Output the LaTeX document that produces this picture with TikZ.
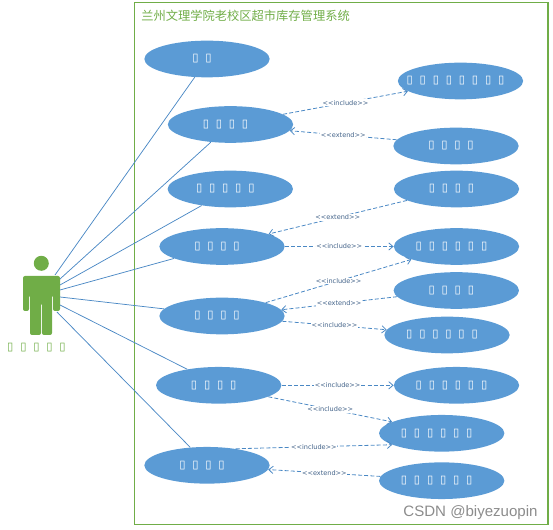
\documentclass[tikz,border=0pt]{standalone}
\usepackage{fontspec}
\setmainfont{DejaVu Sans}
\newfontfamily\cjkfont{Noto Sans CJK SC}
\newfontfamily\wmfont{Liberation Sans}
\usetikzlibrary{shapes.geometric,arrows.meta}
\definecolor{ublue}{HTML}{5B9BD5}
\definecolor{linkblue}{HTML}{4A88C4}
\definecolor{ugreen}{HTML}{70AD47}
\definecolor{labelblue}{HTML}{44648A}
\newcommand{\tf}[1]{\makebox[0pt]{\hskip-7.5pt\foreach \i in {1,...,#1}{\hbox to 9.8pt{\hss\fontsize{8.5}{10}\selectfont ▯\hss}}}}
\newcommand{\inc}{{<}{<}include{>}{>}}
\newcommand{\ext}{{<}{<}extend{>}{>}}
\tikzset{
  usecase/.style={ellipse,fill=ublue,text=white,minimum width=94pt,minimum height=27.5pt,inner sep=0pt},
  assoc/.style={draw=linkblue,line width=0.55pt},
  dep/.style={draw=linkblue,line width=0.6pt,dash pattern=on 3pt off 1.6pt,-{Straight Barb[length=3.2pt,width=5.5pt]}},
  tag/.style={pos=.5,fill=white,inner sep=0.6pt,text=labelblue,font=\fontsize{4.9}{6}\selectfont}
}
\begin{document}
\begin{tikzpicture}[x=0.75pt,y=-0.75pt]
\useasboundingbox (0,0) rectangle (553,530);
\node[draw=ugreen,line width=0.8pt,minimum width=310.2pt,minimum height=391.7pt,inner sep=0pt] (frame) at (341.2,263.8) {};
\node[anchor=west,text=ugreen,inner sep=0pt,font=\cjkfont\fontsize{9.2}{11}\selectfont] (title) at (141,16) {兰州文理学院老校区超市库存管理系统};
% actor
\fill[ugreen] (41.3,263.3) circle (7.5);
\fill[ugreen,rounded corners=1.5pt] (23,311) -- (23,276) -- (60,276) -- (60,311) -- (53,311) -- (53,295) -- (52,295) -- (52,335) -- (42,335) -- (42,303) -- (41,303) -- (41,335) -- (30,335) -- (30,295) -- (29,295) -- (29,311) -- cycle;
\node[text=ugreen,inner sep=0pt] (actorname) at (41.5,347.7) {\tf{5}};
\coordinate (a1) at (55,275);
\coordinate (a2) at (60,279);
\coordinate (a3) at (60,285);
\coordinate (a4) at (60,290);
\coordinate (a5) at (60,297);
\coordinate (a6) at (60,305);
\coordinate (a7) at (57,312);
% use cases
\node[usecase] (n1) at (207,59) {\tf{2}};
\node[usecase] (n2) at (230.5,124.5) {\tf{4}};
\node[usecase] (n3) at (230.3,189) {\tf{5}};
\node[usecase] (n4) at (222,246.5) {\tf{4}};
\node[usecase] (n5) at (222,316) {\tf{4}};
\node[usecase] (n6) at (218.7,385.3) {\tf{4}};
\node[usecase] (n7) at (207,465.3) {\tf{4}};
\node[usecase] (r1) at (460.5,81) {\tf{8}};
\node[usecase] (r2) at (456,146) {\tf{4}};
\node[usecase] (r3) at (456.5,189) {\tf{4}};
\node[usecase] (r4) at (456.5,246.5) {\tf{6}};
\node[usecase] (r5) at (456.3,290.5) {\tf{4}};
\node[usecase] (r6) at (447,335) {\tf{6}};
\node[usecase] (r7) at (456.5,385.3) {\tf{6}};
\node[usecase] (r8) at (441.7,433.3) {\tf{6}};
\node[usecase] (r9) at (441.7,480.7) {\tf{6}};
% associations
\draw[assoc] (a1) -- (n1.236.7);
\draw[assoc] (a2) -- (n2.222.7);
\draw[assoc] (a3) -- (n3.210.7);
\draw[assoc] (a4) -- (n4.194.9);
\draw[assoc] (a5) -- (n5.173.3);
\draw[assoc] (a6) -- (n6.153.7);
\draw[assoc] (a7) -- (n7.133);
% dependencies
\draw[dep] (n2.11.6) -- node[tag] {\inc} (r1.191.4);
\draw[dep] (r2.174.6) -- node[tag] {\ext} (n2.354.1);
\draw[dep] (r3.193.6) -- node[tag] {\ext} (n4.15.1);
\draw[dep] (n4.east) -- node[tag] {\inc} (r4.west);
\draw[dep] (n5.17) -- node[tag] {\inc} (r4.196.2);
\draw[dep] (r5.186.2) -- node[tag] {\ext} (n5.6.6);
\draw[dep] (n5.355.3) -- node[tag] {\inc} (r6.175.6);
\draw[dep] (n6.east) -- node[tag] {\inc} (r7.west);
\draw[dep] (n6.347.3) -- node[tag] {\inc} (r8.167.4);
\draw[dep] (n7.30.6) -- node[tag] {\inc} (r8.193.7);
\draw[dep] (r9.176.3) -- node[tag] {\ext} (n7.356.3);
\node[text=black!45,inner sep=0pt,font=\wmfont\fontsize{11.3}{13}\selectfont] (wm) at (470.5,513) {CSDN @biyezuopin};
\end{tikzpicture}
\end{document}
